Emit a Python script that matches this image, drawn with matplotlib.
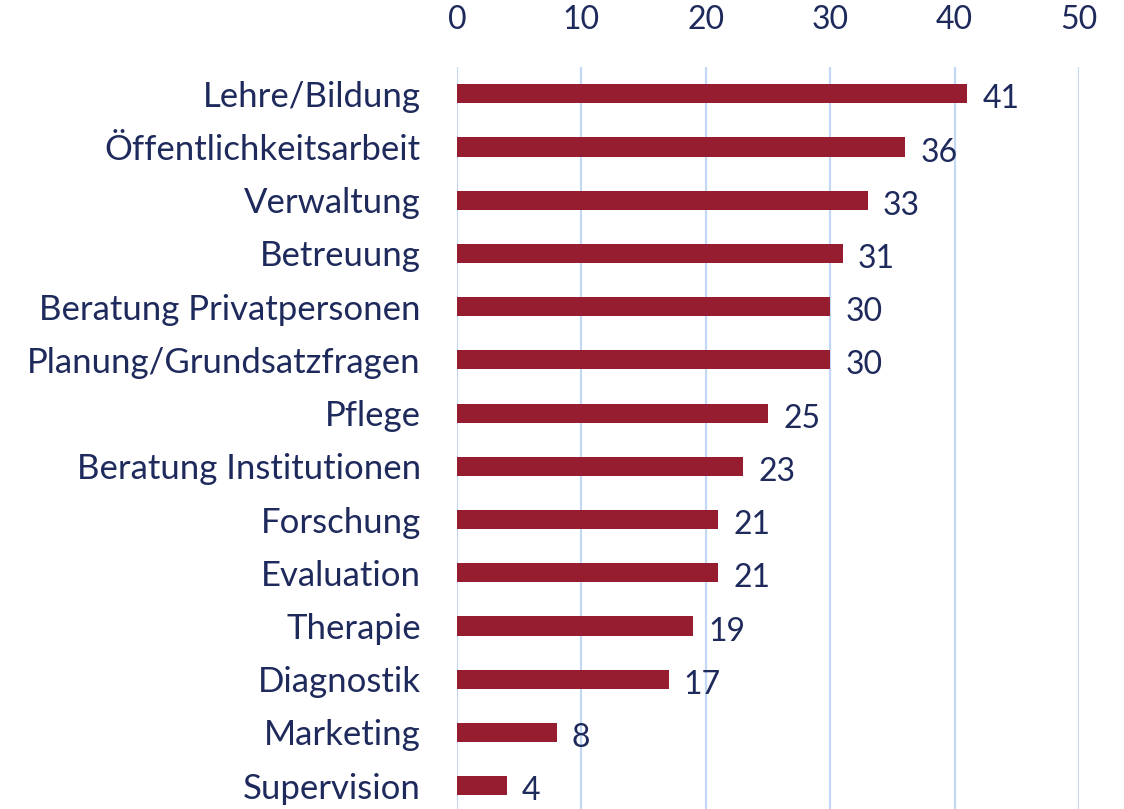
import matplotlib.pyplot as plt

categories = ["Lehre/Bildung", "Öffentlichkeitsarbeit", "Verwaltung", "Betreuung",
              "Beratung Privatpersonen", "Planung/Grundsatzfragen", "Pflege",
              "Beratung Institutionen", "Forschung", "Evaluation", "Therapie",
              "Diagnostik", "Marketing", "Supervision"]
values = [41, 36, 33, 31, 30, 30, 25, 23, 21, 21, 19, 17, 8, 4]
xticks = [0, 10, 20, 30, 40, 50]

text_color = "#1f2a5c"
bar_color = "#961c30"
grid_color = "#c2d8f4"

plt.rcParams["font.family"] = ["Lato", "DejaVu Sans"]

fig = plt.figure(figsize=(11.24, 8.09), dpi=100)
ax = fig.add_axes([0.4066, -0.004, 0.5534, 0.921])

y = list(range(len(categories)))
ax.barh(y, values, height=0.36, color=bar_color, zorder=3)

ax.set_xlim(0, 50)
ax.set_ylim(len(categories) - 0.5, -0.5)
ax.set_xticks(xticks)
ax.set_yticks(y)
ax.set_yticklabels(categories)
ax.xaxis.tick_top()
ax.tick_params(axis="x", length=0, pad=23, labelsize=23, labelcolor=text_color)
ax.tick_params(axis="y", length=0, pad=26, labelsize=25, labelcolor=text_color)
ax.grid(axis="x", color=grid_color, linewidth=1.6, zorder=0)
for s in ax.spines.values():
    s.set_visible(False)

# value labels, sitting a bit right of and below the bar end
for yi, v in zip(y, values):
    ax.annotate(str(v), (v, yi), xytext=(11, -4), textcoords="offset points",
                ha="left", va="center", fontsize=23, color=text_color)

fig.savefig("out.png", dpi=100, facecolor="white")
